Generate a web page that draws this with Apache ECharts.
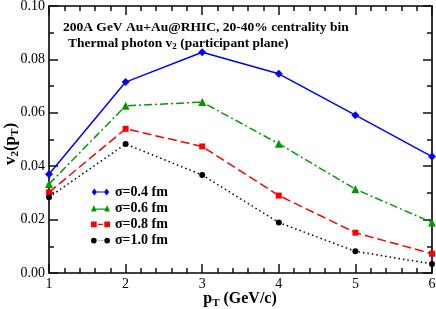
<!DOCTYPE html>
<html><head><meta charset="utf-8">
<script src="https://cdn.jsdelivr.net/npm/echarts@6/dist/echarts.min.js"></script>
<style>html,body{margin:0;padding:0;background:#fff}#c{width:436px;height:309px}</style>
</head><body><div id="c"></div>
<script>
const pT = [1, 2, 3, 4, 5, 6];
const s04 = [0.0370, 0.0715, 0.0827, 0.0746, 0.0591, 0.0436];
const s06 = [0.0333, 0.0626, 0.0640, 0.0484, 0.0314, 0.0189];
const s08 = [0.0302, 0.0540, 0.0474, 0.0290, 0.0151, 0.0072];
const s10 = [0.0284, 0.0483, 0.0367, 0.0189, 0.0081, 0.0034];
const names = ['σ=0.4 fm', 'σ=0.6 fm', 'σ=0.8 fm', 'σ=1.0 fm'];
const yTicks = ['0.00', '0.02', '0.04', '0.06', '0.08', '0.10'];

const F = 'Liberation Serif, Times New Roman, serif';
const pair = a => pT.map((x, i) => [x, a[i]]);
const chart = echarts.init(document.getElementById('c'), null, {renderer: 'canvas'});
const line = () => ({show: true, onZero: false, lineStyle: {color: '#000', width: 1.6}});
const tick = () => ({show: true, inside: true, length: 9, lineStyle: {color: '#111', width: 1.5, opacity: 1}});
const minor = n => ({show: true, splitNumber: n, length: 5, lineStyle: {color: '#111', width: 1.5, opacity: 1}});
const hiddenLabel = () => ({show: true, color: 'rgba(0,0,0,0)', fontSize: 10});
function mk(name, data, color, symbol, size, type) {
  return {name, type: 'line', data: pair(data), symbol, symbolSize: size,
    itemStyle: {color}, lineStyle: {color, width: 1.5, type}};
}
const icons = {
  d: 'path://M0 4L3 0L6 4L3 8ZM14 4L17 0L20 4L17 8ZM3 3.4L17 3.4L17 4.6L3 4.6Z',
  t: 'path://M0 7.5L3 0.5L6 7.5ZM14 7.5L17 0.5L20 7.5ZM3 4.4L17 4.4L17 5.6L3 5.6Z',
  r: 'path://M0 1L6 1L6 7L0 7ZM14 1L20 1L20 7L14 7ZM7.5 3.4L12.5 3.4L12.5 4.6L7.5 4.6Z',
  c: 'path://M0 4A3 3 0 1 0 6 4A3 3 0 1 0 0 4ZM14 4A3 3 0 1 0 20 4A3 3 0 1 0 14 4ZM8 3.5L9 3.5L9 4.5L8 4.5ZM11 3.5L12 3.5L12 4.5L11 4.5Z'
};
const subRich = {s: {fontFamily: F, fontSize: 11, fontWeight: 'bold', verticalAlign: 'bottom', padding: [9, 0, 0, 0]}};
chart.setOption({
  animation: false,
  grid: {left: 49, right: 4, top: 6, bottom: 36, containLabel: false, outerBoundsMode: 'none'},
  title: [
    {text: '200A GeV Au+Au@RHIC, 20-40% centrality bin', left: 58, top: 16,
     textStyle: {fontFamily: F, fontSize: 13.5, fontWeight: 'bold', color: '#000'}},
    {text: 'Thermal photon v{s|2} (participant plane)', left: 63, top: 31,
     textStyle: {fontFamily: F, fontSize: 13.5, fontWeight: 'bold', color: '#000',
       rich: {s: {fontFamily: F, fontSize: 9, fontWeight: 'bold', verticalAlign: 'bottom', padding: [6, 0, 0, 0]}}}}
  ],
  graphic: [
    {type: 'text', x: 11, y: 144, rotation: Math.PI / 2,
     style: {text: 'v{s|2}(p{s|T})', fontFamily: F, fontSize: 17, fontWeight: 'bold', fill: '#000',
       align: 'center', verticalAlign: 'middle', rich: subRich}},
    {type: 'text', x: 240, y: 299,
     style: {text: 'p{s|T} (GeV/c)', fontFamily: F, fontSize: 16, fontWeight: 'bold', fill: '#000',
       align: 'center', verticalAlign: 'middle', rich: subRich}}
  ],
  legend: {
    left: 86, top: 180, orient: 'vertical', itemGap: 2.2, itemWidth: 19, itemHeight: 7,
    textStyle: {fontFamily: F, fontSize: 14, fontWeight: 'bold', color: '#000'},
    data: [
      {name: names[0], icon: icons.d}, {name: names[1], icon: icons.t},
      {name: names[2], icon: icons.r}, {name: names[3], icon: icons.c}
    ]
  },
  xAxis: [
    {type: 'value', min: 1, max: 6, interval: 1, position: 'bottom',
      axisLine: line(), axisTick: tick(), minorTick: minor(5), splitLine: {show: false},
      axisLabel: {fontFamily: F, fontSize: 14, color: '#000', margin: 4}},
    {type: 'value', min: 1, max: 6, interval: 1, position: 'top',
      axisLine: line(), axisTick: tick(), minorTick: minor(5), splitLine: {show: false},
      axisLabel: hiddenLabel()}
  ],
  yAxis: [
    {type: 'value', min: 0, max: 0.1, interval: 0.02, position: 'left',
      axisLine: line(), axisTick: tick(), minorTick: minor(2), splitLine: {show: false},
      axisLabel: {fontFamily: F, fontSize: 14, color: '#000', margin: 4,
        formatter: v => yTicks[Math.round(v / 0.02)]}},
    {type: 'value', min: 0, max: 0.1, interval: 0.02, position: 'right',
      axisLine: line(), axisTick: tick(), minorTick: minor(2), splitLine: {show: false},
      axisLabel: hiddenLabel()}
  ],
  series: [
    mk(names[0], s04, '#0000ff', 'diamond', 8, 'solid'),
    mk(names[1], s06, '#009a00', 'triangle', 8, [8, 3, 2, 3]),
    mk(names[2], s08, '#ff0000', 'rect', 6, [9, 4]),
    mk(names[3], s10, '#000000', 'circle', 6, [1.5, 3])
  ]
});
</script></body></html>
